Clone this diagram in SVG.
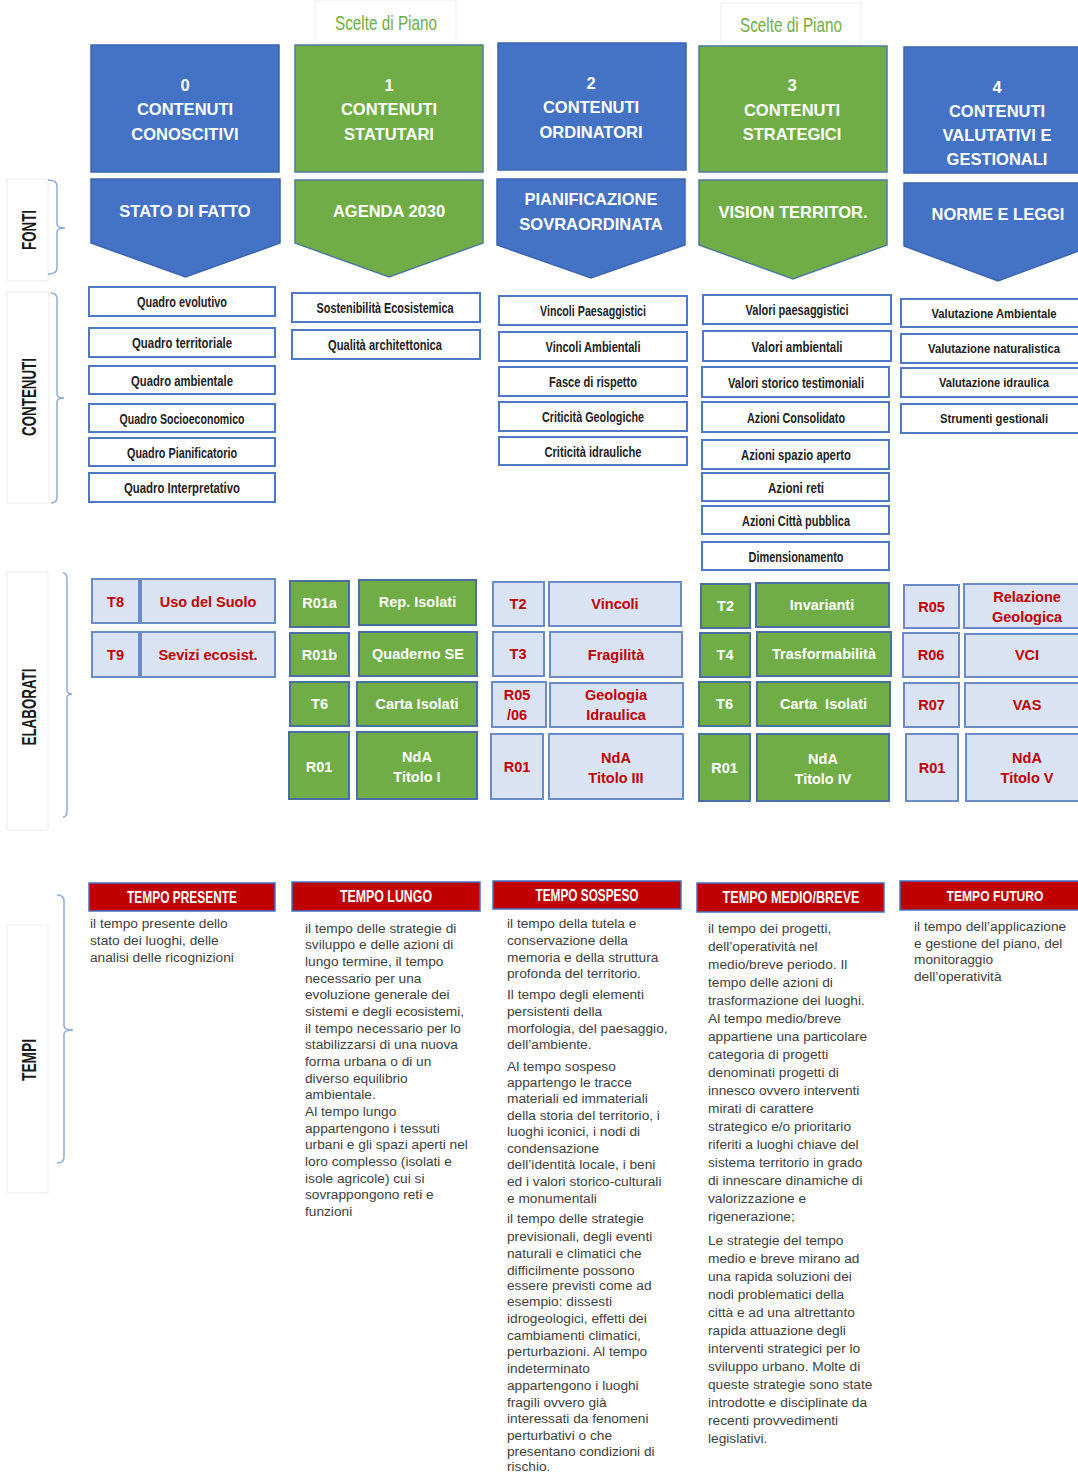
<svg xmlns="http://www.w3.org/2000/svg" width="1078" height="1474" viewBox="0 0 1078 1474">
<style>
.bg{fill:#ffffff}
.b{fill:#4472C4;stroke:#3B66B0;stroke-width:1.5}
.g{fill:#70AD47;stroke:#4E7A9A;stroke-width:1.5}
.ht{font-family:'Liberation Sans',Arial,sans-serif;font-weight:bold;font-size:16.5px;fill:#ffffff;text-anchor:middle}
.cb{fill:#ffffff;stroke:#4F78C4;stroke-width:2}
.ct{font-family:'Liberation Sans',Arial,sans-serif;font-weight:bold;font-size:15px;fill:#222222;text-anchor:middle}
.cs{font-size:12.5px}
.el{fill:#DAE3F3;stroke:#6A8BC6;stroke-width:2}
.eg{fill:#70AD47;stroke:#4A6FA5;stroke-width:2}
.er{font-family:'Liberation Sans',Arial,sans-serif;font-weight:bold;font-size:14.5px;fill:#C00000;text-anchor:middle}
.ew{font-family:'Liberation Sans',Arial,sans-serif;font-weight:bold;font-size:14.5px;fill:#ffffff;text-anchor:middle}
.tb{fill:#C00000;stroke:#4472C4;stroke-width:1.5}
.tt{font-family:'Liberation Sans',Arial,sans-serif;font-weight:bold;font-size:17px;fill:#ffffff;text-anchor:middle}
.ts{font-size:14px}
.bt{font-family:'Liberation Sans',Arial,sans-serif;font-size:13.7px;fill:#404040}
.lb{fill:#ffffff;stroke:#EBEBEB;stroke-width:1}
.lt{font-family:'Liberation Sans',Arial,sans-serif;font-weight:bold;font-size:21px;fill:#1a1a1a;text-anchor:middle}
.br{fill:none;stroke:#8FAADC;stroke-width:1.5}
.sp{font-family:'Liberation Sans',Arial,sans-serif;font-size:21px;fill:#70AD47;text-anchor:middle}
</style>
<rect class="bg" x="0" y="0" width="1078" height="1474"/>

<!-- Scelte di Piano labels -->
<g id="scelte1">
<rect class="lb" x="315" y="0" width="141" height="43"/>
<text class="sp" x="386" y="30" textLength="102" lengthAdjust="spacingAndGlyphs">Scelte di Piano</text>
</g>
<g id="scelte2">
<rect class="lb" x="721" y="3" width="140" height="42"/>
<text class="sp" x="791" y="32" textLength="102" lengthAdjust="spacingAndGlyphs">Scelte di Piano</text>
</g>

<!-- Row labels -->
<g id="label-fonti">
<rect class="lb" x="7" y="179" width="41" height="102"/>
<text class="lt" transform="translate(36,230) rotate(-90)" textLength="40" lengthAdjust="spacingAndGlyphs">FONTI</text>
</g>
<g id="label-contenuti">
<rect class="lb" x="7" y="292" width="42" height="211"/>
<text class="lt" transform="translate(36,397) rotate(-90)" textLength="78" lengthAdjust="spacingAndGlyphs">CONTENUTI</text>
</g>
<g id="label-elaborati">
<rect class="lb" x="7" y="572" width="41" height="258"/>
<text class="lt" transform="translate(36,707) rotate(-90)" textLength="77" lengthAdjust="spacingAndGlyphs">ELABORATI</text>
</g>
<g id="label-tempi">
<rect class="lb" x="7" y="925" width="41" height="268"/>
<text class="lt" transform="translate(36,1060) rotate(-90)" textLength="42" lengthAdjust="spacingAndGlyphs">TEMPI</text>
</g>

<g id="connectors">
<path class="br" d="M48,180 Q57,180 57,186 L57,224 Q57,228 65,228 Q57,228 57,232 L57,268 Q57,274 48,274"/>
<path class="br" d="M51,293 Q57,293 57,299 L57,394 Q57,398 64,398 Q57,398 57,402 L57,497 Q57,503 51,503"/>
<path class="br" d="M63,573 Q67,573 67,579 L67,690 Q67,694 72,694 Q67,694 67,698 L67,811 Q67,817 63,817"/>
<path class="br" d="M57,895 Q64,895 64,901 L64,1026 Q64,1030 73,1030 Q64,1030 64,1034 L64,1157 Q64,1163 57,1163"/>
</g>

<!-- Headers -->
<g id="h0">
<rect class="b" x="91" y="45" width="188" height="127"/>
<text class="ht" x="185" y="91">0</text>
<text class="ht" x="185" y="115">CONTENUTI</text>
<text class="ht" x="185" y="140">CONOSCITIVI</text>
</g>
<g id="h1">
<rect class="g" x="295" y="45" width="188" height="127"/>
<text class="ht" x="389" y="91">1</text>
<text class="ht" x="389" y="115">CONTENUTI</text>
<text class="ht" x="389" y="140">STATUTARI</text>
</g>
<g id="h2">
<rect class="b" x="498" y="43" width="188" height="127"/>
<text class="ht" x="591" y="89">2</text>
<text class="ht" x="591" y="113">CONTENUTI</text>
<text class="ht" x="591" y="138">ORDINATORI</text>
</g>
<g id="h3">
<rect class="g" x="699" y="46" width="188" height="126"/>
<text class="ht" x="792" y="91">3</text>
<text class="ht" x="792" y="116">CONTENUTI</text>
<text class="ht" x="792" y="140">STRATEGICI</text>
</g>
<g id="h4">
<rect class="b" x="904" y="47" width="176" height="126"/>
<text class="ht" x="997" y="93">4</text>
<text class="ht" x="997" y="117">CONTENUTI</text>
<text class="ht" x="997" y="141">VALUTATIVI E</text>
<text class="ht" x="997" y="165">GESTIONALI</text>
</g>

<!-- Fonti arrows -->
<g id="f0">
<polygon class="b" points="91,179 280,179 280,243 185.5,277 91,243"/>
<text class="ht" x="185" y="217">STATO DI FATTO</text>
</g>
<g id="f1">
<polygon class="g" points="295,180 483,180 483,243 389,277 295,243"/>
<text class="ht" x="389" y="217">AGENDA 2030</text>
</g>
<g id="f2">
<polygon class="b" points="497,179 685,179 685,245 591,278 497,245"/>
<text class="ht" x="591" y="205">PIANIFICAZIONE</text>
<text class="ht" x="591" y="230">SOVRAORDINATA</text>
</g>
<g id="f3">
<polygon class="g" points="699,180 887,180 887,245 793,279 699,245"/>
<text class="ht" x="793" y="218">VISION TERRITOR.</text>
</g>
<g id="f4">
<polygon class="b" points="904,183 1080,183 1080,250.5 998,281 904,246"/>
<text class="ht" x="998" y="220">NORME E LEGGI</text>
</g>

<!-- Contenuti col0 -->
<g id="c0-1"><rect class="cb" x="89" y="287" width="186" height="29"/><text class="ct" x="182" y="307" textLength="90" lengthAdjust="spacingAndGlyphs">Quadro evolutivo</text></g>
<g id="c0-2"><rect class="cb" x="89" y="328" width="186" height="29"/><text class="ct" x="182" y="348" textLength="100" lengthAdjust="spacingAndGlyphs">Quadro territoriale</text></g>
<g id="c0-3"><rect class="cb" x="89" y="366" width="186" height="28"/><text class="ct" x="182" y="386" textLength="102" lengthAdjust="spacingAndGlyphs">Quadro ambientale</text></g>
<g id="c0-4"><rect class="cb" x="89" y="404" width="186" height="28"/><text class="ct" x="182" y="424" textLength="125" lengthAdjust="spacingAndGlyphs">Quadro Socioeconomico</text></g>
<g id="c0-5"><rect class="cb" x="89" y="438" width="186" height="28"/><text class="ct" x="182" y="458" textLength="110" lengthAdjust="spacingAndGlyphs">Quadro Pianificatorio</text></g>
<g id="c0-6"><rect class="cb" x="89" y="473" width="186" height="29"/><text class="ct" x="182" y="493" textLength="116" lengthAdjust="spacingAndGlyphs">Quadro Interpretativo</text></g>

<!-- Contenuti col1 -->
<g id="c1-1"><rect class="cb" x="292" y="293" width="188" height="29"/><text class="ct" x="385" y="313" textLength="137" lengthAdjust="spacingAndGlyphs">Sostenibilità Ecosistemica</text></g>
<g id="c1-2"><rect class="cb" x="292" y="330" width="188" height="29"/><text class="ct" x="385" y="350" textLength="114" lengthAdjust="spacingAndGlyphs">Qualità architettonica</text></g>

<!-- Contenuti col2 -->
<g id="c2-1"><rect class="cb" x="499" y="296" width="188" height="29"/><text class="ct" x="593" y="316" textLength="106" lengthAdjust="spacingAndGlyphs">Vincoli Paesaggistici</text></g>
<g id="c2-2"><rect class="cb" x="499" y="332" width="188" height="29"/><text class="ct" x="593" y="352" textLength="95" lengthAdjust="spacingAndGlyphs">Vincoli Ambientali</text></g>
<g id="c2-3"><rect class="cb" x="499" y="367" width="188" height="29"/><text class="ct" x="593" y="387" textLength="88" lengthAdjust="spacingAndGlyphs">Fasce di rispetto</text></g>
<g id="c2-4"><rect class="cb" x="499" y="402" width="188" height="29"/><text class="ct" x="593" y="422" textLength="102" lengthAdjust="spacingAndGlyphs">Criticità Geologiche</text></g>
<g id="c2-5"><rect class="cb" x="499" y="437" width="188" height="28"/><text class="ct" x="593" y="457" textLength="97" lengthAdjust="spacingAndGlyphs">Criticità idrauliche</text></g>

<!-- Contenuti col3 -->
<g id="c3-1"><rect class="cb" x="703" y="295" width="188" height="29"/><text class="ct" x="797" y="315" textLength="103" lengthAdjust="spacingAndGlyphs">Valori paesaggistici</text></g>
<g id="c3-2"><rect class="cb" x="703" y="331" width="188" height="30"/><text class="ct" x="797" y="352" textLength="91" lengthAdjust="spacingAndGlyphs">Valori ambientali</text></g>
<g id="c3-3"><rect class="cb" x="702" y="367" width="187" height="30"/><text class="ct" x="796" y="388" textLength="136" lengthAdjust="spacingAndGlyphs">Valori storico testimoniali</text></g>
<g id="c3-4"><rect class="cb" x="702" y="402" width="187" height="30"/><text class="ct" x="796" y="423" textLength="98" lengthAdjust="spacingAndGlyphs">Azioni Consolidato</text></g>
<g id="c3-5"><rect class="cb" x="702" y="440" width="187" height="29"/><text class="ct" x="796" y="460" textLength="110" lengthAdjust="spacingAndGlyphs">Azioni  spazio aperto</text></g>
<g id="c3-6"><rect class="cb" x="702" y="473" width="187" height="28"/><text class="ct" x="796" y="493" textLength="56" lengthAdjust="spacingAndGlyphs">Azioni reti</text></g>
<g id="c3-7"><rect class="cb" x="702" y="506" width="187" height="28"/><text class="ct" x="796" y="526" textLength="108" lengthAdjust="spacingAndGlyphs">Azioni  Città pubblica</text></g>
<g id="c3-8"><rect class="cb" x="702" y="542" width="187" height="28"/><text class="ct" x="796" y="562" textLength="95" lengthAdjust="spacingAndGlyphs">Dimensionamento</text></g>

<!-- Contenuti col4 -->
<g id="c4-1"><rect class="cb" x="901" y="299" width="179" height="28"/><text class="ct cs" x="994" y="318" textLength="125" lengthAdjust="spacingAndGlyphs">Valutazione Ambientale</text></g>
<g id="c4-2"><rect class="cb" x="901" y="334" width="179" height="29"/><text class="ct cs" x="994" y="353" textLength="132" lengthAdjust="spacingAndGlyphs">Valutazione naturalistica</text></g>
<g id="c4-3"><rect class="cb" x="901" y="368" width="179" height="29"/><text class="ct cs" x="994" y="387" textLength="110" lengthAdjust="spacingAndGlyphs">Valutazione idraulica</text></g>
<g id="c4-4"><rect class="cb" x="901" y="404" width="179" height="29"/><text class="ct cs" x="994" y="423" textLength="108" lengthAdjust="spacingAndGlyphs">Strumenti gestionali</text></g>

<!-- Elaborati col0 -->
<g id="e0-1"><rect class="el" x="92" y="579" width="47" height="44"/><text class="er" x="115.5" y="607">T8</text></g>
<g id="e0-2"><rect class="el" x="141" y="579" width="134" height="44"/><text class="er" x="208" y="607">Uso del Suolo</text></g>
<g id="e0-3"><rect class="el" x="92" y="632" width="47" height="45"/><text class="er" x="115.5" y="660">T9</text></g>
<g id="e0-4"><rect class="el" x="141" y="632" width="134" height="45"/><text class="er" x="208" y="660">Sevizi ecosist.</text></g>

<!-- Elaborati col1 -->
<g id="e1-1"><rect class="eg" x="290" y="581" width="59" height="46"/><text class="ew" x="319.5" y="608">R01a</text></g>
<g id="e1-2"><rect class="eg" x="359" y="580" width="117" height="45"/><text class="ew" x="417.5" y="607">Rep. Isolati</text></g>
<g id="e1-3"><rect class="eg" x="290" y="633" width="59" height="43"/><text class="ew" x="319.5" y="660">R01b</text></g>
<g id="e1-4"><rect class="eg" x="359" y="632" width="118" height="44"/><text class="ew" x="418" y="659">Quaderno SE</text></g>
<g id="e1-5"><rect class="eg" x="290" y="682" width="59" height="44"/><text class="ew" x="319.5" y="709">T6</text></g>
<g id="e1-6"><rect class="eg" x="357" y="682" width="120" height="44"/><text class="ew" x="417" y="709">Carta Isolati</text></g>
<g id="e1-7"><rect class="eg" x="289" y="732" width="60" height="67"/><text class="ew" x="319" y="772">R01</text></g>
<g id="e1-8"><rect class="eg" x="357" y="732" width="120" height="67"/><text class="ew" x="417" y="762">NdA</text><text class="ew" x="417" y="782">Titolo I</text></g>

<!-- Elaborati col2 -->
<g id="e2-1"><rect class="el" x="493" y="582" width="51" height="44"/><text class="er" x="518" y="609">T2</text></g>
<g id="e2-2"><rect class="el" x="549" y="582" width="132" height="44"/><text class="er" x="615" y="609">Vincoli</text></g>
<g id="e2-3"><rect class="el" x="493" y="632" width="51" height="44"/><text class="er" x="518" y="659">T3</text></g>
<g id="e2-4"><rect class="el" x="550" y="632" width="132" height="45"/><text class="er" x="616" y="660">Fragilità</text></g>
<g id="e2-5"><rect class="el" x="492" y="682" width="54" height="45"/><text class="er" x="517" y="700">R05</text><text class="er" x="517" y="720">/06</text></g>
<g id="e2-6"><rect class="el" x="550" y="683" width="133" height="44"/><text class="er" x="616" y="700">Geologia</text><text class="er" x="616" y="720">Idraulica</text></g>
<g id="e2-7"><rect class="el" x="491" y="734" width="52" height="65"/><text class="er" x="517" y="772">R01</text></g>
<g id="e2-8"><rect class="el" x="549" y="734" width="134" height="65"/><text class="er" x="616" y="763">NdA</text><text class="er" x="616" y="783">Titolo III</text></g>

<!-- Elaborati col3 -->
<g id="e3-1"><rect class="eg" x="701" y="584" width="49" height="44"/><text class="ew" x="725.5" y="611">T2</text></g>
<g id="e3-2"><rect class="eg" x="756" y="583" width="133" height="44"/><text class="ew" x="822" y="610">Invarianti</text></g>
<g id="e3-3"><rect class="eg" x="700" y="633" width="50" height="44"/><text class="ew" x="725" y="660">T4</text></g>
<g id="e3-4"><rect class="eg" x="757" y="632" width="134" height="44"/><text class="ew" x="824" y="659">Trasformabilità</text></g>
<g id="e3-5"><rect class="eg" x="699" y="682" width="51" height="44"/><text class="ew" x="724.5" y="709">T6</text></g>
<g id="e3-6"><rect class="eg" x="757" y="682" width="133" height="44"/><text class="ew" x="823.5" y="709" xml:space="preserve">Carta  Isolati</text></g>
<g id="e3-7"><rect class="eg" x="699" y="734" width="51" height="67"/><text class="ew" x="724.5" y="773">R01</text></g>
<g id="e3-8"><rect class="eg" x="757" y="734" width="132" height="67"/><text class="ew" x="823" y="764">NdA</text><text class="ew" x="823" y="784">Titolo IV</text></g>

<!-- Elaborati col4 -->
<g id="e4-1"><rect class="el" x="904" y="585" width="55" height="43"/><text class="er" x="931.5" y="612">R05</text></g>
<g id="e4-2"><rect class="el" x="964" y="584" width="116" height="44"/><text class="er" x="1027" y="602">Relazione</text><text class="er" x="1027" y="622">Geologica</text></g>
<g id="e4-3"><rect class="el" x="903" y="633" width="56" height="44"/><text class="er" x="931" y="660">R06</text></g>
<g id="e4-4"><rect class="el" x="965" y="634" width="115" height="43"/><text class="er" x="1027" y="660">VCI</text></g>
<g id="e4-5"><rect class="el" x="904" y="683" width="55" height="44"/><text class="er" x="931.5" y="710">R07</text></g>
<g id="e4-6"><rect class="el" x="965" y="683" width="115" height="44"/><text class="er" x="1027" y="710">VAS</text></g>
<g id="e4-7"><rect class="el" x="906" y="734" width="52" height="67"/><text class="er" x="932" y="773">R01</text></g>
<g id="e4-8"><rect class="el" x="966" y="734" width="114" height="67"/><text class="er" x="1027" y="763">NdA</text><text class="er" x="1027" y="783">Titolo V</text></g>

<!-- Tempi -->
<g id="t0">
<rect class="tb" x="89" y="883" width="186" height="28"/>
<text class="tt" x="182" y="903" textLength="110" lengthAdjust="spacingAndGlyphs">TEMPO PRESENTE</text>
<text class="bt" x="90" y="928">il tempo presente dello</text>
<text class="bt" x="90" y="945">stato dei luoghi, delle</text>
<text class="bt" x="90" y="962">analisi delle ricognizioni</text>
</g>
<g id="t1">
<rect class="tb" x="292" y="882" width="188" height="29"/>
<text class="tt" x="386" y="902" textLength="92" lengthAdjust="spacingAndGlyphs">TEMPO LUNGO</text>
<text class="bt" x="305" y="932.5">il tempo delle strategie di</text>
<text class="bt" x="305" y="949.2">sviluppo e delle azioni di</text>
<text class="bt" x="305" y="965.8">lungo termine, il tempo</text>
<text class="bt" x="305" y="982.5">necessario per una</text>
<text class="bt" x="305" y="999.2">evoluzione generale dei</text>
<text class="bt" x="305" y="1015.8">sistemi e degli ecosistemi,</text>
<text class="bt" x="305" y="1032.5">il tempo necessario per lo</text>
<text class="bt" x="305" y="1049.2">stabilizzarsi di una nuova</text>
<text class="bt" x="305" y="1065.8">forma urbana o di un</text>
<text class="bt" x="305" y="1082.5">diverso equilibrio</text>
<text class="bt" x="305" y="1099.2">ambientale.</text>
<text class="bt" x="305" y="1115.8">Al tempo lungo</text>
<text class="bt" x="305" y="1132.5">appartengono i tessuti</text>
<text class="bt" x="305" y="1149.2">urbani e gli spazi aperti nel</text>
<text class="bt" x="305" y="1165.8">loro complesso (isolati e</text>
<text class="bt" x="305" y="1182.5">isole agricole) cui si</text>
<text class="bt" x="305" y="1199.2">sovrappongono reti e</text>
<text class="bt" x="305" y="1215.8">funzioni</text>
</g>
<g id="t2">
<rect class="tb" x="493" y="881" width="188" height="28"/>
<text class="tt" x="587" y="901" textLength="103" lengthAdjust="spacingAndGlyphs">TEMPO SOSPESO</text>
<text class="bt" x="507" y="927.5">il tempo della tutela e</text>
<text class="bt" x="507" y="944.5">conservazione della</text>
<text class="bt" x="507" y="961.5">memoria e della struttura</text>
<text class="bt" x="507" y="977.5">profonda del territorio.</text>
<text class="bt" x="507" y="999">Il tempo degli elementi</text>
<text class="bt" x="507" y="1015.5">persistenti della</text>
<text class="bt" x="507" y="1032.5">morfologia, del paesaggio,</text>
<text class="bt" x="507" y="1048.5">dell’ambiente.</text>
<text class="bt" x="507" y="1070.5">Al tempo sospeso</text>
<text class="bt" x="507" y="1086.5">appartengo le tracce</text>
<text class="bt" x="507" y="1102.5">materiali ed immateriali</text>
<text class="bt" x="507" y="1119.5">della storia del territorio, i</text>
<text class="bt" x="507" y="1136">luoghi iconici, i nodi di</text>
<text class="bt" x="507" y="1152.5">condensazione</text>
<text class="bt" x="507" y="1168.5">dell’identità locale, i beni</text>
<text class="bt" x="507" y="1185.5">ed i valori storico-culturali</text>
<text class="bt" x="507" y="1202.5">e monumentali</text>
<text class="bt" x="507" y="1222.5">il tempo delle strategie</text>
<text class="bt" x="507" y="1240.5">previsionali, degli eventi</text>
<text class="bt" x="507" y="1257.5">naturali e climatici che</text>
<text class="bt" x="507" y="1275">difficilmente possono</text>
<text class="bt" x="507" y="1290">essere previsti come ad</text>
<text class="bt" x="507" y="1306">esempio: dissesti</text>
<text class="bt" x="507" y="1322.5">idrogeologici, effetti dei</text>
<text class="bt" x="507" y="1339.5">cambiamenti climatici,</text>
<text class="bt" x="507" y="1356">perturbazioni. Al tempo</text>
<text class="bt" x="507" y="1372.5">indeterminato</text>
<text class="bt" x="507" y="1389.5">appartengono i luoghi</text>
<text class="bt" x="507" y="1406.5">fragili ovvero già</text>
<text class="bt" x="507" y="1422.5">interessati da fenomeni</text>
<text class="bt" x="507" y="1439.5">perturbativi o che</text>
<text class="bt" x="507" y="1456">presentano condizioni di</text>
<text class="bt" x="507" y="1471">rischio.</text>
</g>
<g id="t3">
<rect class="tb" x="697" y="883" width="187" height="29"/>
<text class="tt" x="791" y="903" textLength="137" lengthAdjust="spacingAndGlyphs">TEMPO MEDIO/BREVE</text>
<text class="bt" x="708" y="932.5">il tempo dei progetti,</text>
<text class="bt" x="708" y="950.5">dell’operatività nel</text>
<text class="bt" x="708" y="968.5">medio/breve periodo. Il</text>
<text class="bt" x="708" y="986.5">tempo delle azioni di</text>
<text class="bt" x="708" y="1004.5">trasformazione dei luoghi.</text>
<text class="bt" x="708" y="1022.5">Al tempo medio/breve</text>
<text class="bt" x="708" y="1040.5">appartiene una particolare</text>
<text class="bt" x="708" y="1058.5">categoria di progetti</text>
<text class="bt" x="708" y="1076.5">denominati progetti di</text>
<text class="bt" x="708" y="1094.5">innesco ovvero interventi</text>
<text class="bt" x="708" y="1112.5">mirati di carattere</text>
<text class="bt" x="708" y="1130.5">strategico e/o prioritario</text>
<text class="bt" x="708" y="1148.5">riferiti a luoghi chiave del</text>
<text class="bt" x="708" y="1166.5">sistema territorio in grado</text>
<text class="bt" x="708" y="1184.5">di innescare dinamiche di</text>
<text class="bt" x="708" y="1202.5">valorizzazione e</text>
<text class="bt" x="708" y="1220.5">rigenerazione;</text>
<text class="bt" x="708" y="1244.5">Le strategie del tempo</text>
<text class="bt" x="708" y="1262.5">medio e breve mirano ad</text>
<text class="bt" x="708" y="1280.5">una rapida soluzioni dei</text>
<text class="bt" x="708" y="1298.5">nodi problematici della</text>
<text class="bt" x="708" y="1316.5">città e ad una altrettanto</text>
<text class="bt" x="708" y="1334.5">rapida attuazione degli</text>
<text class="bt" x="708" y="1352.5">interventi strategici per lo</text>
<text class="bt" x="708" y="1370.5">sviluppo urbano. Molte di</text>
<text class="bt" x="708" y="1388.5">queste strategie sono state</text>
<text class="bt" x="708" y="1406.5">introdotte e disciplinate da</text>
<text class="bt" x="708" y="1424.5">recenti provvedimenti</text>
<text class="bt" x="708" y="1442.5">legislativi.</text>
</g>
<g id="t4">
<rect class="tb" x="900" y="881" width="180" height="29"/>
<text class="tt ts" x="995" y="901" textLength="97" lengthAdjust="spacingAndGlyphs">TEMPO FUTURO</text>
<text class="bt" x="914" y="930.5">il tempo dell’applicazione</text>
<text class="bt" x="914" y="947.5">e gestione del piano, del</text>
<text class="bt" x="914" y="963.5">monitoraggio</text>
<text class="bt" x="914" y="980.5">dell’operatività</text>
</g>
</svg>
